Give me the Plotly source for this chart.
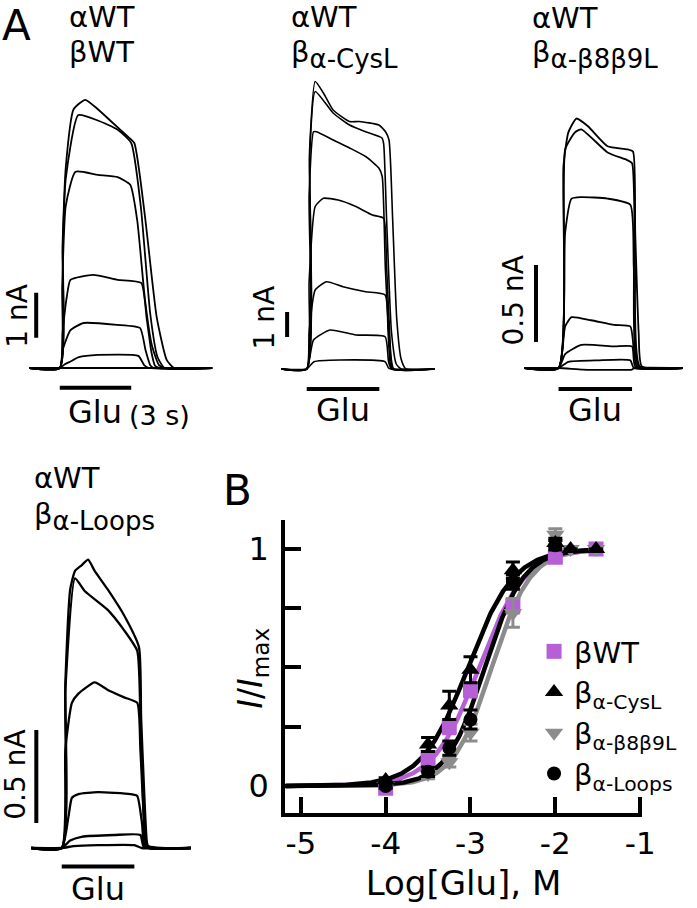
import plotly.graph_objects as go
import numpy as np

W, H = 697, 908
FONT = "DejaVu Sans, Liberation Sans, Arial, sans-serif"

# ---------------- Panel B data (Log[Glu], normalized current) ----------------
wt_x = [-4, -3.5, -3.25, -3, -2.5, -2, -1.52]
wt_y = [-0.01, 0.12, 0.25, 0.405, 0.76, 0.965, 1.0]
wt_err = [0.01, 0.02, 0.03, 0.03, 0.03, 0.02, 0.0]

cys_x = [-4, -3.5, -3.25, -3, -2.5, -2, -1.82, -1.52]
cys_y = [0.025, 0.175, 0.34, 0.49, 0.91, 1.025, 1.0, 1.0]
cys_err = [0.01, 0.03, 0.06, 0.055, 0.035, 0.02, 0.0, 0.0]

b89_x = [-4, -3.5, -3.25, -3, -2.5, -2, -1.82, -1.52]
b89_y = [0.0, 0.05, 0.10, 0.225, 0.73, 1.06, 1.0, 1.0]
b89_err = [0.01, 0.02, 0.02, 0.035, 0.06, 0.025, 0.0, 0.0]

loop_x = [-4, -3.5, -3.25, -3, -2.5, -2]
loop_y = [0.0, 0.06, 0.16, 0.28, 0.86, 1.015]
loop_err = [0.01, 0.02, 0.03, 0.04, 0.03, 0.02]

# Hill fit parameters (log EC50, Hill coefficient)
fit_ec50 = {"wt": -2.90, "cys": -3.03, "b89": -2.75, "loop": -2.83}
fit_nh = {"wt": 1.6, "cys": 1.6, "b89": 1.9, "loop": 1.9}

x_ticks = [-5, -4, -3, -2, -1]
x_ticktext = ["-5", "-4", "-3", "-2", "-1"]
y_ticks = [0, 0.25, 0.5, 0.75, 1]
y_ticktext = ["0", "", "", "", "1"]

# ---------------- Panel A traces (time in s from Glu onset, current in nA) ----------------
wt_tr_t = [
    [0, 0.12, 0.25, 0.58, 1.07, 1.6, 2.22, 2.84, 3.13, 3.58, 4.07, 4.49, 4.8],
    [0, 0.12, 0.25, 0.78, 1.6, 2.42, 3.0, 3.4, 3.8, 4.1, 4.4],
    [0, 0.1, 0.25, 0.66, 1.6, 2.43, 2.96, 3.25, 3.58, 3.87, 4.16, 4.4],
    [0, 0.12, 0.3, 0.45, 1.4, 2.43, 3.42, 3.65, 3.85, 4.0, 4.2],
    [0, 0.15, 0.45, 1.0, 2.4, 3.37, 3.6, 3.8, 3.95],
    [0, 0.2, 0.4, 0.8, 1.6, 3.3, 3.55, 3.75],
    [0, 3.0],
]
wt_tr_i = [
    [0, 2.8, 4.45, 5.75, 5.96, 5.75, 5.45, 5.15, 5.0, 3.36, 1.13, 0.18, 0],
    [0, 2.6, 4.2, 5.62, 5.5, 5.3, 5.0, 3.6, 1.2, 0.25, 0],
    [0, 1.8, 3.6, 4.36, 4.29, 4.24, 4.07, 3.29, 1.51, 0.5, 0.07, 0],
    [0, 0.8, 1.6, 1.96, 2.07, 1.96, 1.89, 1.1, 0.35, 0.05, 0],
    [0, 0.45, 0.84, 1.0, 0.96, 0.89, 0.4, 0.06, 0],
    [0, 0.08, 0.13, 0.24, 0.29, 0.27, 0.06, 0],
    [0, 0],
]

cys_tr_t = [
    [0, 0.12, 0.35, 0.69, 1.09, 1.77, 2.17, 2.98, 3.25, 3.4, 3.55, 3.72, 3.9, 4.1],
    [0, 0.12, 0.35, 1.09, 1.77, 2.43, 3.11, 3.18, 3.3, 3.5, 3.7, 3.9],
    [0, 0.1, 0.28, 0.41, 1.09, 1.77, 2.45, 2.98, 3.12, 3.25, 3.45, 3.6],
    [0, 0.1, 0.35, 0.69, 1.3, 2.03, 2.71, 3.18, 3.3, 3.45, 3.55],
    [0, 0.1, 0.35, 0.82, 1.5, 2.43, 3.24, 3.36, 3.45, 3.55],
    [0, 0.15, 0.28, 0.96, 2.03, 3.24, 3.38, 3.5],
    [0, 0.3, 1.37, 3.24, 3.38, 3.5],
]
cys_tr_i = [
    [0, 8.76, 11.5, 11.04, 10.36, 9.9, 9.9, 9.76, 9.5, 9.16, 6.0, 2.0, 0.4, 0],
    [0, 8.5, 11.1, 10.24, 9.76, 9.49, 9.24, 9.0, 6.0, 1.5, 0.2, 0],
    [0, 7.0, 9.49, 9.49, 9.16, 8.84, 8.49, 8.04, 7.7, 4.0, 0.8, 0],
    [0, 3.5, 6.5, 6.83, 6.76, 6.5, 6.16, 6.03, 4.1, 1.0, 0],
    [0, 1.5, 3.16, 3.49, 3.29, 3.09, 2.96, 1.5, 0.2, 0],
    [0, 0.6, 1.16, 1.56, 1.36, 1.29, 0.3, 0],
    [0, 0.29, 0.36, 0.29, 0.04, 0],
]

b89_tr_t = [
    [0, 0.2, 0.4, 0.73, 1.2, 2.0, 2.8, 3.04, 3.13, 3.27, 3.4],
    [0, 0.27, 0.67, 0.93, 2.0, 2.8, 3.0, 3.12, 3.32],
    [0, 0.27, 0.53, 0.93, 2.0, 2.93, 3.07, 3.27],
    [0, 0.27, 0.53, 1.33, 2.27, 2.93, 3.07, 3.2],
    [0, 0.27, 0.93, 2.27, 3.0, 3.13],
    [0, 0.4, 1.6, 2.93, 3.07],
    [0, 1.0, 2.0, 3.0, 3.1],
]
b89_tr_i = [
    [0, 1.31, 1.53, 1.62, 1.57, 1.44, 1.42, 1.405, 0.88, 0.23, 0.01],
    [0, 1.42, 1.53, 1.55, 1.4, 1.35, 1.33, 0.66, 0.01],
    [0, 0.88, 1.1, 1.11, 1.1, 1.06, 0.66, 0.01],
    [0, 0.27, 0.33, 0.31, 0.28, 0.27, 0.12, 0.01],
    [0, 0.09, 0.15, 0.14, 0.14, 0.01],
    [0, 0.04, 0.05, 0.05, 0],
    [0, -0.01, -0.012, -0.01, 0],
]

loop_tr_t = [
    [0, 0.15, 0.35, 0.55, 0.82, 1.09, 1.36, 1.9, 2.58, 3.19, 3.28, 3.39, 3.52, 3.6],
    [0, 0.15, 0.55, 0.96, 1.9, 2.58, 3.12, 3.25, 3.39, 3.52],
    [0, 0.15, 0.42, 0.69, 1.36, 1.9, 2.58, 3.12, 3.25, 3.39, 3.52],
    [0, 0.28, 0.42, 0.69, 1.5, 2.83, 3.12, 3.32, 3.45],
    [0, 0.35, 0.82, 2.17, 3.25, 3.39],
    [0, 0.5, 1.5, 3.0, 3.3],
]
loop_tr_i = [
    [0, 0.89, 1.39, 1.49, 1.52, 1.55, 1.49, 1.39, 1.25, 1.08, 0.7, 0.35, 0.03, 0],
    [0, 0.85, 1.45, 1.38, 1.28, 1.17, 1.06, 0.7, 0.17, 0.01],
    [0, 0.53, 0.78, 0.83, 0.89, 0.85, 0.81, 0.78, 0.53, 0.17, 0.015],
    [0, 0.17, 0.27, 0.29, 0.30, 0.29, 0.28, 0.13, 0.006],
    [0, 0.04, 0.06, 0.07, 0.07, 0.006],
    [0, 0.01, 0.015, 0.015, 0],
]

glu_on, glu_off = 0.0, 3.0

PURPLE = "#b65fd6"
GRAY = "#8c8c8c"
BLACK = "#000000"

fig = go.Figure()


def px2fx(px):
    return px / W


def px2fy(py):
    return 1 - py / H


def sub(txt, size=26):
    return "<sub><span style='font-size:%dpx'>%s</span></sub>" % (size, txt)


# ---------- Panel A groups ----------
groups = [
    dict(t=wt_tr_t, i=wt_tr_i, box=(22, 228, 60, 400), onset=61, pps=24.3, base=368, ppn=45,
         win=(-1.28, 6.4), sb_t=-0.99, sb_y0=0.67, sb_amp=1.0, sb_lab="1 nA", lab_px=(17, 316),
         glu_y=-0.44, glu_lab_px=412, width=1.8),
    dict(t=cys_tr_t, i=cys_tr_i, box=(262, 460, 60, 400), onset=313, pps=24.7, base=369, ppn=25,
         win=(-1.05, 5.3), sb_t=-0.81, sb_y0=1.28, sb_amp=1.0, sb_lab="1 nA", lab_px=(270, 318),
         glu_y=-0.8, glu_lab_px=410, width=1.6),
    dict(t=b89_tr_t, i=b89_tr_i, box=(500, 697, 60, 400), onset=570, pps=25.0, base=368, ppn=154,
         win=(-1.4, 5.08), sb_t=-0.92, sb_y0=0.169, sb_amp=0.5, sb_lab="0.5 nA", lab_px=(524, 300),
         glu_y=-0.136, glu_lab_px=410, width=1.8),
    dict(t=loop_tr_t, i=loop_tr_i, box=(2, 228, 520, 895), onset=63, pps=24.7, base=848, ppn=186,
         win=(-1.26, 5.34), sb_t=-1.05, sb_y0=0.134, sb_amp=0.5, sb_lab="0.5 nA", lab_px=(15, 775),
         glu_y=-0.10, glu_lab_px=889, width=2.3),
]

for gi, g in enumerate(groups):
    ax = gi + 2
    x0, x1, y0, y1 = g["box"]
    xr = [(x0 - g["onset"]) / g["pps"], (x1 - g["onset"]) / g["pps"]]
    yr = [(g["base"] - y1) / g["ppn"], (g["base"] - y0) / g["ppn"]]
    xa = "x%d" % ax
    ya = "y%d" % ax
    for tt, ii in zip(g["t"], g["i"]):
        tt2 = [g["win"][0]] + list(tt) + [g["win"][1]]
        ii2 = [0] + list(ii) + [0]
        fig.add_trace(go.Scatter(x=tt2, y=ii2, mode="lines", xaxis=xa, yaxis=ya,
                                 line=dict(color=BLACK, width=g["width"], shape="spline", smoothing=0.5),
                                 showlegend=False, hoverinfo="skip"))
    fig.layout["xaxis%d" % ax] = dict(domain=[px2fx(x0), px2fx(x1)], range=xr, visible=False,
                                      anchor=ya, fixedrange=True)
    fig.layout["yaxis%d" % ax] = dict(domain=[px2fy(y1), px2fy(y0)], range=yr, visible=False,
                                      anchor=xa, fixedrange=True)
    fig.add_shape(type="line", xref=xa, yref=ya, x0=g["sb_t"], x1=g["sb_t"],
                  y0=g["sb_y0"], y1=g["sb_y0"] + g["sb_amp"], line=dict(color=BLACK, width=4))
    fig.add_shape(type="line", xref=xa, yref=ya, x0=glu_on, x1=glu_off,
                  y0=g["glu_y"], y1=g["glu_y"], line=dict(color=BLACK, width=4))
    fig.add_annotation(x=px2fx(g["lab_px"][0]), y=px2fy(g["lab_px"][1]), xref="paper", yref="paper",
                       text=g["sb_lab"], textangle=-90, showarrow=False,
                       font=dict(family=FONT, size=28, color=BLACK), xanchor="center", yanchor="middle")
    gx_px = g["onset"] + (glu_on + glu_off) / 2 * g["pps"]
    fig.add_annotation(x=px2fx(gx_px), y=px2fy(g["glu_lab_px"]), xref="paper", yref="paper",
                       text="Glu", showarrow=False, font=dict(family=FONT, size=32, color=BLACK),
                       xanchor="center", yanchor="middle")

fig.add_annotation(x=px2fx(130), y=px2fy(415), xref="paper", yref="paper", text="(3 s)",
                   showarrow=False, font=dict(family=FONT, size=27, color=BLACK),
                   xanchor="left", yanchor="middle")

titles = [
    (68, 17, "αWT"), (68, 52, "βWT"),
    (295, 17, "αWT"), (295, 55, "β" + sub("α-CysL")),
    (541, 18, "αWT"), (541, 55, "β" + sub("α-β8β9L")),
    (33, 478, "αWT"), (33, 516, "β" + sub("α-Loops")),
]
for xp, yp, tx in titles:
    fig.add_annotation(x=px2fx(xp), y=px2fy(yp), xref="paper", yref="paper", text=tx,
                       showarrow=False, font=dict(family=FONT, size=29, color=BLACK),
                       xanchor="left", yanchor="middle")

fig.add_annotation(x=px2fx(1), y=1.0, xref="paper", yref="paper", text="A",
                   showarrow=False, font=dict(family=FONT, size=42, color=BLACK),
                   xanchor="left", yanchor="top", borderpad=0)
fig.add_annotation(x=px2fx(226), y=px2fy(490), xref="paper", yref="paper", text="B",
                   showarrow=False, font=dict(family=FONT, size=42, color=BLACK),
                   xanchor="left", yanchor="middle")

# ---------- Panel B ----------
xc = np.linspace(-5.18, -1.5, 300)


def hill(x, ec50, nh):
    return 1.0 / (1.0 + 10 ** ((ec50 - x) * nh))


curve_order = [("wt", PURPLE), ("b89", GRAY), ("loop", BLACK), ("cys", BLACK)]
for key, col in curve_order:
    fig.add_trace(go.Scatter(x=xc, y=hill(xc, fit_ec50[key], fit_nh[key]), mode="lines",
                             line=dict(color=col, width=4.5), showlegend=False, hoverinfo="skip"))

series = [
    ("βWT", wt_x, wt_y, wt_err, PURPLE, "square", 15),
    ("β<sub>α-CysL</sub>", cys_x, cys_y, cys_err, BLACK, "triangle-up", 16),
    ("β<sub>α-β8β9L</sub>", b89_x, b89_y, b89_err, GRAY, "triangle-down", 16),
    ("β<sub>α-Loops</sub>", loop_x, loop_y, loop_err, BLACK, "circle", 14),
]
for k in [0, 2, 3, 1]:
    name, xs, ys, es, col, sym, sz = series[k]
    fig.add_trace(go.Scatter(x=xs, y=ys, mode="markers", name=name,
                             marker=dict(color=col, symbol=sym, size=sz, line=dict(width=0)),
                             error_y=dict(type="data", array=es, color=col, thickness=3, width=7),
                             showlegend=False))

for k in range(4):
    name, xs, ys, es, col, sym, sz = series[k]
    fig.add_trace(go.Scatter(x=[None], y=[None], mode="markers", name=name,
                             marker=dict(color=col, symbol=sym, size=sz), showlegend=True))

fig.update_layout(
    width=W, height=H, margin=dict(l=0, r=0, t=0, b=0),
    paper_bgcolor="white", plot_bgcolor="white",
    font=dict(family=FONT, color=BLACK),
    xaxis=dict(domain=[px2fx(291), px2fx(655)], range=[-5.185, -0.98], showgrid=False, zeroline=False,
               showline=True, linecolor=BLACK, linewidth=4, ticks="inside", ticklen=16, tickwidth=4,
               tickcolor=BLACK, tickvals=x_ticks, ticktext=x_ticktext,
               tickfont=dict(family=FONT, size=31, color=BLACK), ticklabelstandoff=0,
               title=dict(text="Log[Glu], M", font=dict(family=FONT, size=34, color=BLACK), standoff=12),
               fixedrange=True),
    yaxis=dict(domain=[px2fy(813), px2fy(520)], range=[-0.114, 1.122], showgrid=False, zeroline=False,
               showline=True, linecolor=BLACK, linewidth=4, ticks="inside", ticklen=16, tickwidth=4,
               tickcolor=BLACK, tickvals=y_ticks, ticktext=y_ticktext,
               tickfont=dict(family=FONT, size=32, color=BLACK), ticklabelstandoff=6,
               fixedrange=True),
    legend=dict(x=px2fx(545), y=px2fy(626), xanchor="left", yanchor="top",
                font=dict(family=FONT, size=29, color=BLACK), bgcolor="rgba(0,0,0,0)",
                itemsizing="trace", tracegroupgap=0),
    showlegend=True,
)

fig.add_annotation(x=px2fx(257), y=px2fy(668), xref="paper", yref="paper",
                   text="<i>I</i>/<i>I</i><sub>max</sub>", textangle=-90, showarrow=False,
                   font=dict(family=FONT, size=33, color=BLACK), xanchor="center", yanchor="middle")

fig.write_html("out.html", config={"displayModeBar": False},
               post_script="document.body.style.margin='0px';document.body.style.overflow='hidden';")
